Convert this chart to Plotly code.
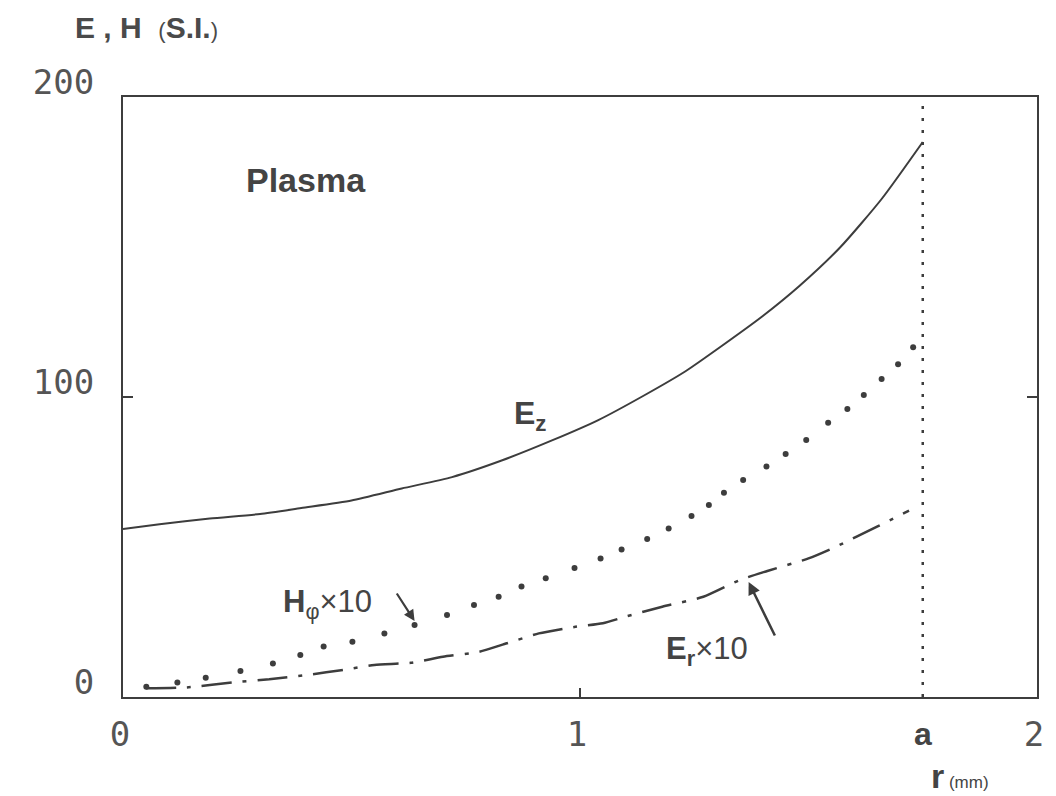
import plotly.graph_objects as go

# Radius of the plasma column (mm)
a_radius = 1.75

# E_z along the radius (solid curve)
r_ez = [0.0, 0.08, 0.19, 0.30, 0.39, 0.50, 0.61, 0.72, 0.83, 0.94, 1.04,
        1.14, 1.23, 1.31, 1.40, 1.48, 1.57, 1.66, 1.75]
ez = [56, 57.6, 59.5, 61, 63, 65.5, 69.5, 73.3, 78.9, 85.6, 92.3,
      100.5, 108.5, 117, 127, 137, 150, 166, 185]

# H_phi x 10 (plotted as individual dots)
r_h = [0.051, 0.119, 0.181, 0.257, 0.328, 0.388, 0.439, 0.502, 0.572, 0.638,
       0.709, 0.768, 0.822, 0.872, 0.925, 0.988, 1.045, 1.091, 1.147, 1.194,
       1.244, 1.282, 1.315, 1.357, 1.408, 1.450, 1.495, 1.543, 1.585, 1.621,
       1.660, 1.696, 1.729]
h_phi = [3.4, 4.8, 6.4, 8.7, 11.2, 14.0, 16.8, 18.4, 21.2, 24.0,
         27.3, 30.7, 33.4, 36.8, 39.6, 43.0, 46.2, 49.2, 52.7, 56.2,
         60.3, 64.0, 68.1, 72.3, 76.8, 81.0, 85.7, 91.4, 96.0, 100.7,
         106.0, 110.9, 116.6]

# E_r x 10 (dash-dot curve)
r_er = [0.05, 0.14, 0.25, 0.32, 0.40, 0.49, 0.55, 0.63, 0.70, 0.78, 0.84,
        0.91, 0.99, 1.05, 1.10, 1.18, 1.27, 1.35, 1.41, 1.50, 1.56, 1.65, 1.72]
er = [2.9, 3.2, 5.0, 5.9, 7.3, 9.2, 10.7, 11.4, 13.4, 15.1, 17.9,
      21.2, 23.4, 24.6, 26.8, 30.1, 33.4, 39.0, 42.0, 46.2, 50.1, 56.8, 62.1]

x_ticks = [0, 1, 2]
x_tick_text = ["0", "1", "2"]
y_ticks = [0, 100, 200]
y_tick_text = ["0", "100", "200"]

INK = "#3d3d3d"
PLOT_FONT = "DejaVu Sans Mono"
LABEL_FONT = "Liberation Sans"

fig = go.Figure()

fig.add_trace(go.Scatter(
    x=r_ez, y=ez, mode="lines",
    line=dict(color=INK, width=2, shape="spline", smoothing=0.6),
    hoverinfo="skip", showlegend=False))

fig.add_trace(go.Scatter(
    x=r_h, y=h_phi, mode="markers",
    marker=dict(color=INK, size=6),
    hoverinfo="skip", showlegend=False))

fig.add_trace(go.Scatter(
    x=r_er, y=er, mode="lines",
    line=dict(color=INK, width=2.5, shape="spline", smoothing=0.6,
              dash="30px,11px,4px,11px"),
    hoverinfo="skip", showlegend=False))

# Boundary of the plasma at r = a
fig.add_shape(type="line", x0=a_radius, x1=a_radius, y0=0, y1=200,
              xref="x", yref="y",
              line=dict(color=INK, width=2.5, dash="3px,9px"))

annotations = [
    dict(text="<b>Plasma</b>", x=0.264, y=172.5, xref="x", yref="y",
         xanchor="left", yanchor="middle", showarrow=False,
         font=dict(family=LABEL_FONT, size=34, color="#444")),
    dict(text="<b>E<sub>z</sub></b>", x=0.852, y=94, xref="x", yref="y",
         xanchor="left", yanchor="middle", showarrow=False,
         font=dict(family=LABEL_FONT, size=32, color="#444")),
    dict(text="<b>H</b><sub>φ</sub>×10", x=0.345, y=31, xref="x", yref="y",
         xanchor="left", yanchor="middle", showarrow=False,
         font=dict(family=LABEL_FONT, size=31, color="#444")),
    dict(text="<b>E<sub>r</sub></b>×10", x=1.183, y=15.5, xref="x", yref="y",
         xanchor="left", yanchor="middle", showarrow=False,
         font=dict(family=LABEL_FONT, size=31, color="#444")),
    # pointer arrows
    dict(text="", x=0.638, y=25.3, ax=0.597, ay=35, xref="x", yref="y",
         axref="x", ayref="y", showarrow=True, arrowhead=2, arrowsize=1,
         arrowwidth=2.2, arrowcolor=INK),
    dict(text="", x=1.369, y=38.3, ax=1.428, ay=20, xref="x", yref="y",
         axref="x", ayref="y", showarrow=True, arrowhead=2, arrowsize=1,
         arrowwidth=2.5, arrowcolor=INK),
    # label of the boundary radius on the r axis
    dict(text="<b>a</b>", x=a_radius, y=-0.062, xref="x", yref="paper",
         xanchor="center", yanchor="middle", showarrow=False,
         font=dict(family=LABEL_FONT, size=32, color="#444")),
    # axis titles
    dict(text="<b>r</b><span style='font-size:17px'> (mm)</span>",
         x=0.882, y=-0.132, xref="paper", yref="paper",
         xanchor="left", yanchor="middle", showarrow=False,
         font=dict(family=LABEL_FONT, size=34, color="#444")),
    dict(text="<b>E , H</b>  <span style='font-size:22px'>(</span><b>S.I.</b><span style='font-size:22px'>)</span>",
         x=-0.0552, y=1.1158, xref="paper", yref="paper",
         xanchor="left", yanchor="middle", showarrow=False,
         font=dict(family=LABEL_FONT, size=30, color="#4a4a4a")),
]
fig.layout.annotations = annotations

fig.update_xaxes(
    range=[0, 2], tickvals=x_ticks, ticktext=x_tick_text,
    showline=True, mirror=True, linewidth=2, linecolor=INK,
    ticks="inside", ticklen=9, tickwidth=2, tickcolor=INK,
    showgrid=False, zeroline=False,
    tickfont=dict(family=PLOT_FONT, size=34, color="#555"),
    ticklabelstandoff=6, ticklabelshift=-3)

fig.update_yaxes(
    range=[0, 200], tickvals=y_ticks, ticktext=y_tick_text,
    showline=True, mirror="ticks", linewidth=2, linecolor=INK,
    ticks="inside", ticklen=10, tickwidth=2, tickcolor=INK,
    showgrid=False, zeroline=False,
    tickfont=dict(family=PLOT_FONT, size=34, color="#555"),
    ticklabelstandoff=20, ticklabelshift=-15)

fig.update_layout(
    width=1056, height=796,
    margin=dict(l=122.5, r=19, t=97, b=99),
    paper_bgcolor="white", plot_bgcolor="white",
    showlegend=False)

fig.write_html("out.html")
